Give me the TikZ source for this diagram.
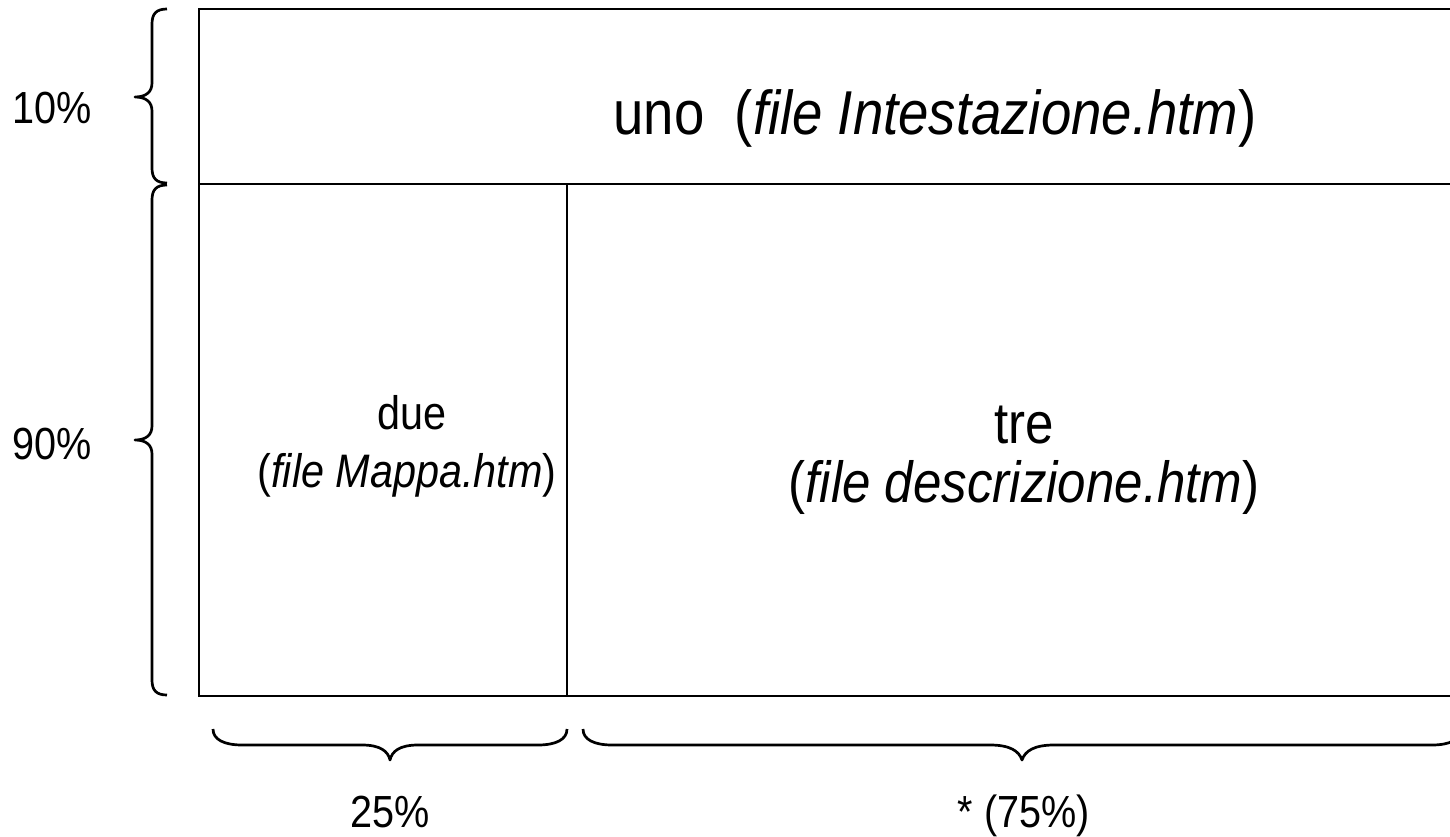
\documentclass[tikz,border=0pt]{standalone}
\usepackage{fontspec}
\setmainfont[FakeStretch=0.88]{Liberation Sans}
\begin{document}
\begin{tikzpicture}[x=1pt,y=-1pt,
  frame/.style={line width=2.6pt, line cap=butt},
  brace/.style={line width=2.7pt, line join=round},
  lbl/.style={anchor=base, inner sep=0pt, font=\fontsize{45}{52}\selectfont},
  big/.style={anchor=base, inner sep=0pt, font=\fontsize{62}{70}\selectfont},
  mid/.style={anchor=base, inner sep=0pt, font=\fontsize{58}{66}\selectfont},
  small/.style={anchor=base, inner sep=0pt, font=\fontsize{47}{54}\selectfont}]
\useasboundingbox (0,0) rectangle (1450,837);
\fill[white] (0,0) rectangle (1450,837);
\begin{scope}
\clip (0,0) rectangle (1450,837);
% frame
\draw[frame] (1470,9) -- (199,9) -- (199,696) -- (1470,696);
\draw[frame] (199,184) -- (1470,184);
\draw[frame] (567,184) -- (567,696);
% left brace 10%
\draw[brace] (167,9) .. controls (156,9) and (152,14) .. (152,24) -- (152,83)
  .. controls (152,92) and (146,97) .. (135,97)
  .. controls (146,97) and (152,102) .. (152,111) -- (152,168)
  .. controls (152,178) and (156,183) .. (167,183);
% left brace 90%
\draw[brace] (167,185) .. controls (156,185) and (152,190) .. (152,200) -- (152,426)
  .. controls (152,435) and (146,440) .. (135,440)
  .. controls (146,440) and (152,445) .. (152,454) -- (152,680)
  .. controls (152,690) and (156,695) .. (167,695);
% bottom brace 25%
\draw[brace] (213,729) .. controls (213,740) and (225,745) .. (242,745) -- (362,745)
  .. controls (380,745) and (388,751) .. (390,760)
  .. controls (392,751) and (400,745) .. (418,745) -- (538,745)
  .. controls (555,745) and (567,740) .. (567,729);
% bottom brace 75%
\draw[brace] (583,729) .. controls (583,740) and (595,745) .. (612,745) -- (990,745)
  .. controls (1010,745) and (1019,751) .. (1022,760)
  .. controls (1025,751) and (1034,745) .. (1054,745) -- (1432,745)
  .. controls (1449,745) and (1461,740) .. (1461,729);
\end{scope}
% labels
\node[lbl] (p10) at (52,124) {10\%};
\node[lbl] (p90) at (52,459) {90\%};
\node[lbl] (p25) at (390,827) {25\%};
\node[lbl] (p75) at (1024,827) {* (75\%)};
\node[big] (uno) at (935,135) {uno~~(\textit{file Intestazione.htm})};
\node[small] (due) at (412,429) {due};
\node[small] (dueF) at (407,487) {(\textit{file Mappa.htm})};
\node[mid] (tre) at (1024,443) {tre};
\node[mid] (treF) at (1024,502) {(\textit{file descrizione.htm})};
\end{tikzpicture}
\end{document}
